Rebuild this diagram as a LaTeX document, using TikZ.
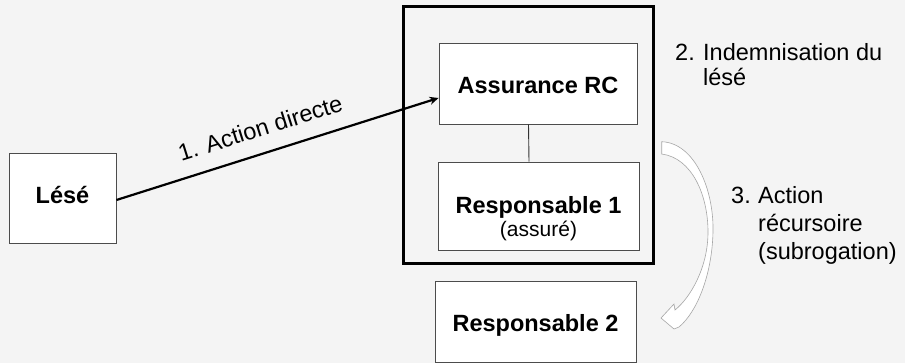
\documentclass[tikz,border=0pt]{standalone}
\usepackage{fontspec}
\setmainfont{Liberation Sans}
\usetikzlibrary{arrows.meta}
\definecolor{bg}{RGB}{244,244,244}
\begin{document}
\begin{tikzpicture}[x=1pt,y=-1pt,
  box/.style={draw=black!70, fill=white, line width=0.9pt, inner sep=0pt, text height=20pt, text depth=0pt},
  bl/.style={font=\fontsize{23.5}{28}\selectfont\bfseries},
  tx/.style={font=\fontsize{23.5}{28}\selectfont},
]
\fill[bg] (0,0) rectangle (905,363);
\useasboundingbox (0,0) rectangle (905,363);

\node[draw=black, line width=3pt, minimum width=250pt, minimum height=257pt, inner sep=0pt] (grp) at (528,135.5) {};

\node[box, bl, minimum width=107pt, minimum height=90pt, text height=12pt] (lese) at (62.5,198) {Lésé};
\node[box, bl, minimum width=198pt, minimum height=81pt] (ass) at (538,83.5) {Assurance RC};
\node[box, minimum width=201pt, minimum height=88pt] (r1) at (538.5,206) {};
\node[bl, anchor=base, inner sep=0pt] (r1a) at ([yshift=-7.3pt]r1.center) {Responsable 1};
\node[font=\fontsize{21}{24}\selectfont, anchor=base, inner sep=0pt] (r1b) at ([yshift=-30.5pt]r1.center) {(assuré)};
\node[box, bl, minimum width=201pt, minimum height=81pt] (r2) at (535.5,321.5) {Responsable 2};

\draw[black!80, line width=0.9pt] ([xshift=-9.5pt]ass.south) -- ([xshift=-9.5pt]r1.north);

\draw[line width=2.2pt, -{Stealth[length=9pt,width=8pt]}] ([yshift=-2pt]lese.east) --
  node[tx, sloped, pos=0.47, anchor=south, inner sep=0pt, yshift=15.5pt] (lbl1) {1. Action directe}
  ([yshift=-14.5pt]ass.west);

\node[font=\fontsize{23.5}{24.3}\selectfont, anchor=base west, inner sep=0pt] (t2) at (675,60.7)
  {\begin{tabular}[t]{@{}l@{}l@{}}\makebox[28pt][l]{2.}&Indemnisation du\\&lésé\end{tabular}};
\node[font=\fontsize{23.5}{28}\selectfont, anchor=base west, inner sep=0pt] (t3) at (731,203.3)
  {\begin{tabular}[t]{@{}l@{}l@{}}\makebox[27pt][l]{3.}&Action\\&récursoire\\&(subrogation)\end{tabular}};

% curved white arrow
\filldraw[fill=white, draw=black!35, line width=0.6pt, line join=miter]
  (661.7,141.7) .. controls (695,143) and (714,190) .. (713,232)
  .. controls (712,275) and (697,312) .. (679,327)
  -- (674,329) -- (661,318) -- (674,304) -- (675,310)
  .. controls (690,298) and (708,268) .. (708,232)
  .. controls (708,195) and (692,158) .. (661.7,154) -- cycle;
\end{tikzpicture}
\end{document}
